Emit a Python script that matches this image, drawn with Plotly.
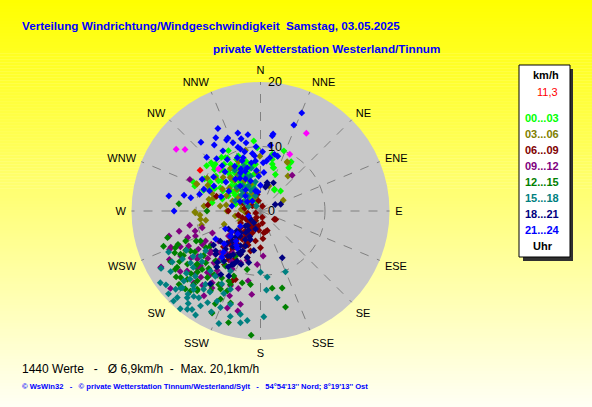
import plotly.graph_objects as go

# ---------------- data (direction in degrees, speed in km/h) ----------------
directions = ["N", "NNE", "NE", "ENE", "E", "ESE", "SE", "SSE",
              "S", "SSW", "SW", "WSW", "W", "WNW", "NW", "NNW"]
dir_ticks = [i * 22.5 for i in range(16)]
radial_ticks = [0, 10, 20]

hour_labels = ["00...03", "03...06", "06...09", "09...12",
               "12...15", "15...18", "18...21", "21...24"]
hour_colors = ["#00FF00", "#808000", "#800000", "#800080",
               "#008000", "#008080", "#000080", "#0000FF"]

h00_03 = [(354.5,10.9),(21.2,10.0),(31.9,9.0),(33.2,8.0),(16.3,7.0),(32.8,4.0),(314.4,10.7),(328,9.7),
          (327.3,8.6),(290.7,10.9),(293.5,11.4),(313.9,10.1),(317.5,8.4),(319.4,7.1),(333.4,6.9),(335.5,6.2),
          (338.7,5.0),(300.2,7.2),(303.7,5.6),(317.6,3.8),(323,2.6),(279.8,7.6),(285.2,7.5),(353.9,7.3),
          (357,9.8),(12.8,8.2),(17.1,7.0),(31.8,8.8),(33.7,3.9),(316,10.1),(326.7,9.9),(340.3,7.7),
          (347.9,7.4),(11.7,9.0),(16.9,8.9),(45,4.4),(22.2,6.1),(14.1,7.5),(317,6.4),(304,4.1),
          (287.5,6.2),(329,4.5),(320,7.7),(332,7.9),(305.5,8.0),(340,3.6),(293.7,8.5),(214.7,4.1),
          (206.6,1.7),(310,6.0),(325,5.5),(345,4.2),(300,9.0),(335,8.8),(315,8.9),(322,9.2),
          (298,6.6),(308,7.6),(342,6.0),(350,5.8),(330,3.0),(312,4.8),(290,9.4),(320,5.0),
          (305,5.2),(318,6.8),(326,7.2),(334,7.5),(344,8.0),(312,9.6),(338,9.2),(296,7.9),
          (308,8.8),(324,8.0),(330,6.2),(346,6.8),(316,5.6),(302,4.6),(338,4.0),(350,7.0),
          (324,10.3),(332,10.6),(310,10.9),(300,10.0),(300,3.0),(315,2.0),(285,4.0),(330,2.0),
          (295,5.5),(340,1.5)]
h03_06 = [(346.1,9.7),(359.3,8.5),(28.4,8.7),(38,6.9),(18.4,4.1),(64.8,3.9),(293.1,10.8),(301.5,9.7),
          (306.5,8.7),(333.8,7.0),(268.5,10.1),(262.1,9.4),(292.9,10.7),(269.1,10.2),(266.2,9.4),(260.4,8.6),
          (256.7,9.4),(270,5.2),(293,2.0),(282.8,8.2),(28.9,8.6),(307,3.9),(310,2.4),(289.7,4.6),
          (315,1.1),(332,5.3),(277,6.3),(312.5,5.0),(335,2.9),(259,4.0),(320,6.2),(300,6.8),
          (285,7.6),(340,4.4),(250,6.0),(245,3.5),(275,8.8),(325,8.1),(296,9.1),(355,6.0),
          (318,7.0),(306,6.0),(294,5.8),(328,6.6),(336,8.4),(312,7.8),(280,5.4),(290,8.0),
          (290,3.2),(300,4.0),(320,3.5),(275,3.0),(340,2.2),(305,1.8),(265,2.4)]
h06_09 = [(118.9,2.7),(166.4,3.3),(171.3,3.4),(160.9,3.2),(164,1.0),(120.7,2.5),(276.5,8.2),(288.5,7.2),
          (348.8,2.6),(204.8,7.4),(200.1,11.3),(180,5.7),(202,11.7),(206.6,1.7),(213.7,2.8),(216.9,3.9),
          (212.7,5.2),(212.9,6.3),(200,3.6),(187.6,2.3),(201.8,5.0),(227.5,5.0),(225,6.6),(248,0.8),
          (242,2.6),(239,3.6),(216.4,7.3),(217,8.7),(194,6.4),(189.5,4.7),(170.5,1.9),(259.7,3.5),
          (270,5.0),(302,1.5),(349,1.6),(22,0.8),(210,4.5),(220,5.8),(205,6.0),(215,7.9),
          (208,8.4),(218,4.2),(224,3.1),(230,4.0),(198,2.5),(212,1.2),(235,2.0),(222,7.0),
          (207,9.2),(214,10.0),(196,7.5),(203,3.0),(226,8.0),(232,6.0),(206,4.0),(212,3.0),
          (218,2.0),(228,2.4),(204,5.3),(221,5.4),(214,6.8),(200,5.6),(226,4.6),(213,9.0),(219,9.8),
          (280,2.5),(295,3.0),(260,2.0),(250,3.0),(185,3.0),(175,4.3)]
h09_12 = [(294.1,12.0),(41.6,7.4),(254.7,14.7),(247.1,15.3),(240.6,17.7),(258.6,11.2),(253.1,10.6),(254,9.4),
          (240.4,17.8),(229.3,18.4),(232.7,12.3),(220.8,12.6),(198.9,15.9),(192.8,15.9),(192.1,14.8),(183.5,8.3),
          (176.6,7.0),(212.2,14.1),(213.7,15.8),(218.3,12.5),(214,13.4),(201.8,12.5),(195.1,7.9),(222.9,15.2),
          (230.7,14.7),(226.1,9.7),(227.5,12.6),(225,7.7),(213.7,7.8),(234.5,8.0),(231.3,9.9),(241.4,9.7),
          (219.8,9.7),(201,8.6),(238.5,11.3),(232,6.3),(245.4,8.2),(249,10.8),(240.6,14.2),(228,11.0),
          (236,13.0),(222,10.8),(244,12.4),(216,11.4),(210,9.0),(233,15.6),(226,14.0),(218,6.6),
          (224,9.0),(230,10.2),(220,8.4),(236,9.2),(240,10.4),(228,13.2),(214,12.0),(246,13.6),
          (234,12.0),(206,10.0),(222,13.8),(242,16.0),(218,14.6),(208,13.0),(248,15.0),
          (190,11.0),(186,13.0),(250,12.0),(256,13.0),(200,14.0),(196,12.5)]
h12_15 = [(275.1,12.7),(240.6,16.0),(246.6,14.4),(241.6,14.1),(242.3,13.1),(222.3,15.4),(218.4,15.8),(212,14.6),
          (205.4,17.5),(207.1,13.6),(202.3,12.3),(194.3,11.5),(184.3,19.3),(171.4,12.1),(165.4,15.4),(164.3,12.4),
          (235.6,16.0),(230.2,16.1),(227,15.5),(222.1,14.6),(218.6,13.2),(209.6,13.1),(202.6,13.4),(204.4,15.0),
          (204.4,11.9),(202.3,10.9),(192.9,9.3),(187.8,11.5),(221.2,16.5),(243.4,10.4),(235,9.5),(240.3,12.5),
          (222,10.4),(212.5,10.1),(226.6,11.7),(209,8.0),(229.8,13.2),(248.2,12.5),(270,8.3),(232,11.2),
          (238,14.8),(225,12.8),(216,12.2),(228,14.5),(245,11.0),(236,10.2),(219,15.6),(234,14.0),
          (230,12.8),(226,13.6),(240,13.8),(222,12.0),(214,13.8),(236,15.6),(244,14.8),(218,11.0),
          (210,12.0),(232,16.6),(228,17.0),(224,16.8),(238,12.0),(248,13.8),
          (250,16.0),(254,15.0),(198,15.0),(196,18.0),(206,16.0)]
h15_18 = [(234.4,19.1),(222.1,20.1),(219.4,19.6),(223.9,18.6),(221.1,17.1),(220.4,16.0),(216.7,19.0),(214.8,18.6),
          (212.3,17.4),(215.4,16.5),(200.3,18.6),(202.5,16.2),(197.8,15.2),(191,16.3),(186.9,17.1),(190.2,17.6),
          (178.2,16.4),(180,9.5),(174.2,10.3),(157.7,10.2),(169.1,13.7),(175.7,12.3),(201,13.0),(205.7,15.5),
          (216.9,14.2),(227.6,16.1),(226,17.2),(220.2,17.6),(225.6,17.0),(227.3,17.9),(233,11.6),(233.4,13.5),
          (219.8,12.1),(217,9.7),(238.4,14.2),(214.7,12.3),(206.6,10.4),(225,14.3),(234,10.5),(334,4.3),
          (318,4.2),(341.6,2.5),(292,4.2),(344,5.6),(321,1.0),(230,15.0),(212,14.8),(208,12.8),
          (229,12.0),(240,15.8),(218,16.8),(236,16.8),(232,18.6),(224,19.4),(226,15.2),(210,16.4),
          (206,17.4),(218,18.2),(196,17.0),(212,19.0),(230,13.6),(236,12.6),(222,15.6),(240,17.8),
          (216,15.0),(204,14.0),(228,19.2),(246,15.6),(242,13.0),(330,6.5),(340,7.4),(335,3.5),
          (325,4.8),(348,6.8),(320,3.0),(345,3.6),(338,5.8),(328,7.5),(350,4.6),
          (300,2.8),(310,3.8),(290,2.0),(315,5.2)]
h18_21 = [(66,2.5),(155.1,8.0),(11.8,3.8),(14.4,4.2),(206.6,9.2),(205,8.6),(207.5,7.3),(203.2,5.9),
          (199.5,4.7),(195.3,2.9),(209.8,2.1),(192.8,8.2),(213.7,8.4),(215.5,6.7),(208,9.4),(204.8,7.4),
          (189.7,6.2),(195.9,7.5),(214.5,13.7),(222,4.6),(223,6.4),(222.6,8.0),(225,3.3),(233,7.8),
          (240.6,5.7),(231,2.0),(228.4,9.3),(222.7,5.5),(204,6.8),(24.7,4.8),(13.3,4.5),(71.5,3.3),
          (210,6.2),(218,7.0),(200,8.8),(212,3.5),(228,6.0),(216,9.6),(220,10.4),(214,4.0),
          (219,5.0),(224,5.2),(208,5.0),(206,7.0),(212,8.0),(226,7.2),(216,8.6),(210,10.0),
          (203,4.3),(221,3.0),(230,4.8),(226,9.6),(218,11.0),(212,11.6),(234,9.0),(206,11.2)]
h21_24 = [(22.8,16.5),(21.2,14.3),(9.3,12.1),(8.9,11.8),(332.7,14.4),(343.8,12.6),(350.6,12.0),(335.8,12.4),
          (334.4,12.2),(328.6,13.3),(319.1,14.1),(340.5,10.5),(342,10.1),(8.6,10.3),(13.9,9.05),(17.5,8.9),
          (6.8,7.8),(3.2,7.5),(9.9,8.4),(353.8,8.6),(354.3,7.8),(349.1,7.6),(354.4,6.3),(279.3,14.4),
          (281.6,12.1),(280.8,11.0),(285.4,9.8),(270,13.4),(291,9.4),(291.5,8.5),(298.2,8.2),(298.5,10.3),
          (319.6,9.2),(327.2,9.5),(336.4,9.0),(339.9,8.3),(342.9,7.0),(332.4,6.7),(341.6,4.9),(346,3.2),
          (315,3.3),(321,5.0),(321,2.0),(357,5.4),(322,6.3),(302,5.8),(339,6.6),(233,3.9),
          (230,6.1),(243,6.1),(247,2.0),(219,6.0),(238,8.2),(330,8.0),(345,9.5),(310,7.0),
          (325,4.0),(352,3.0),(335,5.5),(0,4.0),(5,6.0),(348,10.8),(328,11.0),(338,11.4),
          (320,10.6),(345,11.6),(352,9.0),(335,7.2),(328,6.0),(318,8.2),(306,9.0),(342,8.7),
          (356,10.0),(2,9.2),(315,11.8),(325,12.5),(225,5.0),(222,8.6),(215,6.5),(228,7.6),
          (234,5.5),(220,9.3),(212,6.8),(280,4.5),(295,3.5),(305,2.5),(290,6.5)]
extra_magenta = [(306.2,16.2),(309.2,15.1),(30.5,14.0),(27.3,9.9),(315,9.2)]
current = [(304,11.3)]

current_label = "11,3"
title1 = "Verteilung Windrichtung/Windgeschwindigkeit  Samstag, 03.05.2025"
title2 = "private Wetterstation Westerland/Tinnum"
stats_text = "1440 Werte   -   \u00d8 6,9km/h  -  Max. 20,1km/h"
footer_text = ("\u00a9 WsWin32   -   \u00a9 private Wetterstation Tinnum/Westerland/Sylt   -   "
               "54\u00b054'13'' Nord; 8\u00b019'13'' Ost")

groups = [h00_03, h03_06, h06_09, h09_12, h12_15, h15_18, h18_21, h21_24]

W, H = 592, 407
FONT = "Arial, Liberation Sans, sans-serif"

fig = go.Figure()

def add_pts(pts, color):
    fig.add_trace(go.Scatterpolar(
        theta=[p[0] for p in pts], r=[p[1] for p in pts], mode="markers",
        marker=dict(symbol="diamond", size=5.3, color=color, line=dict(width=0)),
        showlegend=False, hoverinfo="skip"))

for pts, col in zip(groups, hour_colors):
    add_pts(pts, col)
add_pts(extra_magenta, "#FF00FF")
add_pts(current, "#FF0000")

# background gradient (yellow -> pale yellow)
shapes = []
n = 136
for i in range(n):
    y0 = i / n
    y1 = (i + 1) / n
    b = int(245 * (1 - (y0 + y1) / 2))
    shapes.append(dict(type="rect", xref="paper", yref="paper", x0=0, x1=1,
                       y0=y0, y1=y1 + 0.001, line=dict(width=0),
                       fillcolor=f"rgb(255,255,{b})", layer="below"))

def px(x):
    return x / W

def py(y):
    return 1 - y / H

# legend box with shadow
shapes.append(dict(type="rect", xref="paper", yref="paper", x0=px(523), x1=px(573),
                   y0=py(261), y1=py(69), fillcolor="#303030", line=dict(width=0), layer="above"))
shapes.append(dict(type="rect", xref="paper", yref="paper", x0=px(519), x1=px(570),
                   y0=py(257), y1=py(65), fillcolor="white", line=dict(width=1, color="black"),
                   layer="above"))

annotations = [
    dict(text=f"<b>{title1}</b>", x=px(20), y=py(25), xanchor="left", yanchor="middle",
         font=dict(family=FONT, size=11.7, color="#0000FF")),
    dict(text=f"<b>{title2}</b>", x=px(211), y=py(49), xanchor="left", yanchor="middle",
         font=dict(family=FONT, size=11.7, color="#0000FF")),
    dict(text=stats_text, x=px(20), y=py(369), xanchor="left", yanchor="middle",
         font=dict(family=FONT, size=12, color="black")),
    dict(text=f"<b>{footer_text}</b>", x=px(20), y=py(386), xanchor="left", yanchor="middle",
         font=dict(family=FONT, size=7.6, color="#0000FF")),
    dict(text="<b>km/h</b>", x=px(546), y=py(75), xanchor="center", yanchor="middle",
         font=dict(family=FONT, size=11, color="black")),
    dict(text=current_label, x=px(560), y=py(92), xanchor="right", yanchor="middle",
         font=dict(family=FONT, size=11, color="#FF0000")),
    dict(text="<b>Uhr</b>", x=px(543), y=py(246), xanchor="center", yanchor="middle",
         font=dict(family=FONT, size=11, color="black")),
]
for i, (lab, col) in enumerate(zip(hour_labels, hour_colors)):
    annotations.append(dict(text=f"<b>{lab}</b>", x=px(542), y=py(118 + i * 16),
                            xanchor="center", yanchor="middle",
                            font=dict(family=FONT, size=11, color=col)))
for a in annotations:
    a.update(xref="paper", yref="paper", showarrow=False)

fig.update_layout(
    width=W, height=H, autosize=False,
    margin=dict(l=0, r=0, t=0, b=0),
    paper_bgcolor="#FFFFF5",
    shapes=shapes, annotations=annotations,
    polar=dict(
        domain=dict(x=[px(131), px(390)], y=[py(340), py(82)]),
        bgcolor="#C8C8C8",
        angularaxis=dict(direction="clockwise", rotation=90, tickmode="array",
                         tickvals=dir_ticks, ticktext=directions, showline=False,
                         gridcolor="#808080", griddash="dash", gridwidth=1,
                         ticks="outside", ticklen=3, tickcolor="rgba(0,0,0,0)",
                         tickfont=dict(family=FONT, size=11, color="black")),
        radialaxis=dict(range=[0, 20], tickmode="array", tickvals=radial_ticks,
                        ticktext=["\u00a0\u00a0" + str(v) for v in radial_ticks],
                        angle=90, tickangle=90,
                        showline=False, gridcolor="#808080", griddash="dash", gridwidth=1,
                        ticks="", tickfont=dict(family=FONT, size=12.5, color="black")),
    ),
)

fig.write_html("out.html", config={"displayModeBar": False},
               post_script="document.body.style.margin='0';")
